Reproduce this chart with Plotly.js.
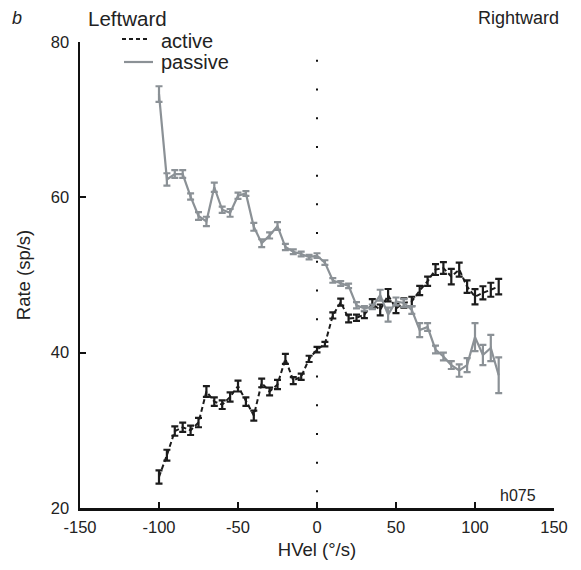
<!DOCTYPE html>
<html>
<head>
<meta charset="utf-8">
<script src="https://cdn.plot.ly/plotly-3.0.1.min.js"></script>
<style>html,body{margin:0;padding:0;background:#fff;}#chart{width:581px;height:570px;}</style>
</head>
<body>
<div id="chart"></div>
<script>
const hvel = [-100,-95,-90,-85,-80,-75,-70,-65,-60,-55,-50,-45,-40,-35,-30,-25,-20,-15,-10,-5,0,5,10,15,20,25,30,35,40,45,50,55,60,65,70,75,80,85,90,95,100,105,110,115];

const activeRate = [24.0,26.8,29.9,30.4,30.0,31.0,35.0,33.7,33.3,34.3,35.7,33.7,31.9,36.1,35.0,35.9,39.2,36.4,36.9,39.2,40.4,41.1,44.8,46.5,44.4,44.5,44.9,46.3,45.5,47.4,45.7,46.4,46.6,48.0,49.2,50.7,50.9,49.8,50.7,48.5,47.2,47.7,48.1,48.5];
const activeErr = [0.85,0.7,0.6,0.6,0.6,0.6,0.7,0.55,0.55,0.6,0.7,0.55,0.65,0.55,0.5,0.6,0.65,0.45,0.4,0.4,0.35,0.3,0.4,0.45,0.5,0.4,0.45,0.6,0.7,0.8,0.6,0.6,0.6,0.6,0.6,0.7,0.75,1.0,0.9,0.8,0.97,0.85,0.9,1.0];

const passiveRate = [73.3,62.3,63.0,63.0,60.1,57.6,56.9,61.3,58.4,58.0,60.2,60.5,56.2,54.1,55.1,56.3,53.6,53.0,52.7,52.3,52.5,51.6,49.3,48.9,48.6,46.1,45.7,45.9,47.4,44.9,46.6,46.4,45.5,42.9,43.3,40.4,39.5,38.4,37.7,38.4,42.0,39.7,40.6,37.1];
const passiveErr = [1.0,0.8,0.5,0.5,0.4,0.5,0.6,0.6,0.4,0.5,0.4,0.3,0.5,0.5,0.4,0.5,0.4,0.3,0.3,0.3,0.3,0.3,0.3,0.3,0.3,0.4,0.3,0.3,0.7,0.9,0.5,0.5,0.5,0.9,0.5,0.5,0.5,0.5,0.8,0.9,1.8,1.3,1.7,2.3];

const xTicks = [-150,-100,-50,0,50,100,150];
const yTicks = [20,40,60,80];
const seriesNames = ['active', 'passive'];

const FONT = 'Liberation Sans, Arial, sans-serif';
const activeColor = '#1c1c1c';
const passiveColor = '#8b9196';

const traces = [
  {
    x: hvel, y: activeRate, name: seriesNames[0], type: 'scatter', mode: 'lines',
    line: {color: activeColor, width: 2, dash: '5px,3px'},
    error_y: {type: 'data', array: activeErr, visible: true, color: activeColor, thickness: 2.2, width: 3.5}
  },
  {
    x: hvel, y: passiveRate, name: seriesNames[1], type: 'scatter', mode: 'lines',
    line: {color: passiveColor, width: 2.2},
    error_y: {type: 'data', array: passiveErr, visible: true, color: passiveColor, thickness: 2.2, width: 3.5}
  }
];

// paper-coordinate helpers (plot area: 474 x 466 px)
const L = 80, T = 42, PW = 474, PH = 466;
const px = v => (v - L) / PW;
const py = v => 1 - (v - T) / PH;

const layout = {
  width: 581, height: 570,
  margin: {l: 80, r: 27, t: 42, b: 62},
  paper_bgcolor: '#fff', plot_bgcolor: '#fff',
  font: {family: FONT, color: '#222', size: 16},
  showlegend: false,
  xaxis: {
    range: [-150, 150], tickvals: xTicks, ticktext: xTicks.map(String),
    showgrid: false, zeroline: false, showline: true, linecolor: '#111', linewidth: 2.5,
    ticks: 'inside', ticklen: 6, tickwidth: 2, tickcolor: '#111', ticklabelstandoff: 3,
    tickfont: {family: FONT, size: 16.5, color: '#222'},
    title: {text: 'HVel (°/s)', font: {family: FONT, size: 18.5, color: '#222'}, standoff: 8}
  },
  yaxis: {
    range: [20, 80], tickvals: yTicks, ticktext: yTicks.map(String),
    showgrid: false, zeroline: false, showline: true, linecolor: '#111', linewidth: 2.5,
    ticks: 'inside', ticklen: 6, tickwidth: 2, tickcolor: '#111', ticklabelstandoff: 5,
    tickfont: {family: FONT, size: 16.5, color: '#222'},
    title: {text: 'Rate (sp/s)', font: {family: FONT, size: 18.5, color: '#222'}, standoff: 16}
  },
  shapes: [
    {type: 'line', xref: 'x', yref: 'y', x0: 0, x1: 0, y0: 77.7, y1: 22.0,
     line: {color: '#111', width: 2, dash: '2px,26.7px'}},
    {type: 'line', xref: 'paper', yref: 'paper', x0: px(122), x1: px(149), y0: py(39), y1: py(39),
     line: {color: activeColor, width: 2, dash: '4px,3px'}},
    {type: 'line', xref: 'paper', yref: 'paper', x0: px(124), x1: px(153), y0: py(62), y1: py(62),
     line: {color: passiveColor, width: 2.2}}
  ],
  annotations: [
    {text: '<i>b</i>', xref: 'paper', yref: 'paper', x: px(10), y: py(18), xanchor: 'left', yanchor: 'middle',
     showarrow: false, font: {family: FONT, size: 18, color: '#222'}},
    {text: 'Leftward', xref: 'paper', yref: 'paper', x: px(86), y: py(18), xanchor: 'left', yanchor: 'middle',
     showarrow: false, font: {family: FONT, size: 20.5, color: '#222'}},
    {text: 'Rightward', xref: 'paper', yref: 'paper', x: px(561), y: py(18), xanchor: 'right', yanchor: 'middle',
     showarrow: false, font: {family: FONT, size: 18, color: '#222'}},
    {text: seriesNames[0], xref: 'paper', yref: 'paper', x: px(159), y: py(41), xanchor: 'left', yanchor: 'middle',
     showarrow: false, font: {family: FONT, size: 20, color: '#222'}},
    {text: seriesNames[1], xref: 'paper', yref: 'paper', x: px(159), y: py(62), xanchor: 'left', yanchor: 'middle',
     showarrow: false, font: {family: FONT, size: 20, color: '#222'}},
    {text: 'h075', xref: 'paper', yref: 'paper', x: px(538), y: py(495), xanchor: 'right', yanchor: 'middle',
     showarrow: false, font: {family: FONT, size: 16, color: '#222'}}
  ]
};

Plotly.newPlot('chart', traces, layout, {displayModeBar: false, staticPlot: true});
</script>
</body>
</html>
